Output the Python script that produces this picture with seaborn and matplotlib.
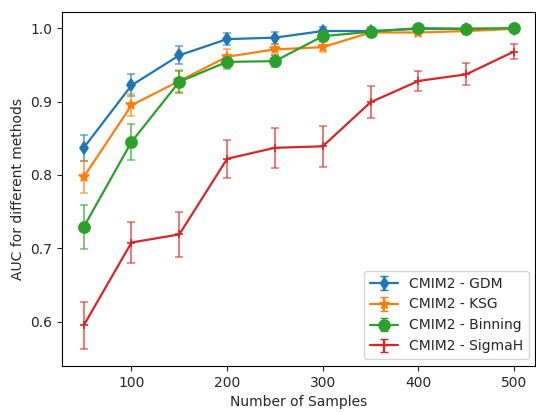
import matplotlib
matplotlib.use("Agg")
import matplotlib.pyplot as plt
import seaborn as sns
import numpy as np
import pandas as pd

samples = [50, 100, 150, 200, 250, 300, 350, 400, 450, 500]
gdm = [0.837, 0.922, 0.963, 0.985, 0.987, 0.996, 0.996, 0.999, 0.999, 0.999]
gdm_err = [0.018, 0.015, 0.012, 0.008, 0.008, 0.006, 0.005, 0.004, 0.004, 0.004]
ksg = [0.797, 0.895, 0.928, 0.961, 0.971, 0.974, 0.994, 0.994, 0.996, 0.999]
ksg_err = [0.022, 0.015, 0.015, 0.010, 0.008, 0.007, 0.005, 0.004, 0.004, 0.003]
binning = [0.729, 0.845, 0.927, 0.954, 0.955, 0.989, 0.995, 1.000, 0.999, 1.000]
binning_err = [0.030, 0.024, 0.015, 0.010, 0.008, 0.006, 0.004, 0.004, 0.004, 0.004]
sigmah = [0.595, 0.708, 0.719, 0.822, 0.837, 0.839, 0.899, 0.928, 0.937, 0.968]
sigmah_err = [0.032, 0.028, 0.031, 0.026, 0.027, 0.028, 0.022, 0.013, 0.015, 0.010]
labels = ["CMIM2 - GDM", "CMIM2 - KSG", "CMIM2 - Binning", "CMIM2 - SigmaH"]
markers = ["d", "*", "o", "+"]
msizes = [6.5, 7.5, 8, 6]

sns.set_style("ticks")
plt.rcParams["font.family"] = ["DejaVu Sans"]
palette = sns.color_palette("tab10")

fig, ax = plt.subplots(figsize=(5.36, 4.12), dpi=100)
series = [(gdm, gdm_err), (ksg, ksg_err), (binning, binning_err), (sigmah, sigmah_err)]
for i, ((vals, errs), lab) in enumerate(zip(series, labels)):
    df = pd.DataFrame({"n": samples, "auc": vals})
    sns.lineplot(data=df, x="n", y="auc", ax=ax, color=palette[i], lw=1.6,
                 marker=markers[i], markersize=msizes[i], markeredgecolor=palette[i],
                 markeredgewidth=1.2, legend=False, zorder=3)
    ax.errorbar(samples, vals, yerr=errs, fmt="none", ecolor=palette[i],
                elinewidth=1.5, capsize=3, capthick=1.2, alpha=0.6, zorder=2)
    # legend proxy
    ax.errorbar([0], [0], yerr=[0.01], color=palette[i], marker=markers[i],
                markersize=msizes[i], lw=1.6, capsize=3, label=lab, visible=True)

ax.set_xlabel("Number of Samples")
ax.set_ylabel("AUC for different methods")
ax.set_xticks([100, 200, 300, 400, 500])
ax.set_yticks([0.6, 0.7, 0.8, 0.9, 1.0])
ax.set_xlim(27.5, 522.5)
ax.set_ylim(0.540, 1.022)
for s in ax.spines.values():
    s.set_visible(True)
    s.set_color("black")
    s.set_linewidth(0.8)
ax.legend(loc="lower right", frameon=True)
fig.subplots_adjust(left=0.116, right=0.999, top=0.971, bottom=0.112)
fig.savefig("out.png", dpi=100)
